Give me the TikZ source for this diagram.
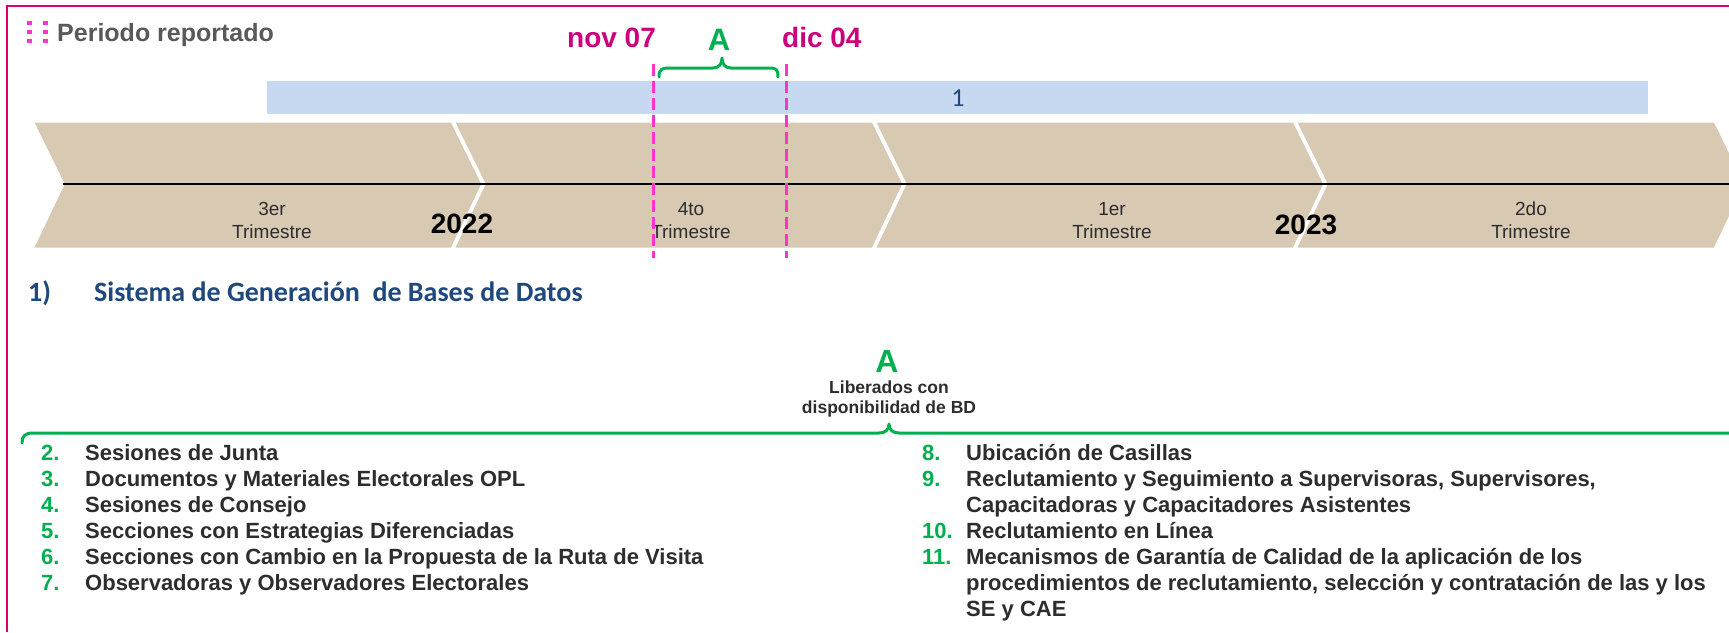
\documentclass[tikz,border=0pt]{standalone}
\usepackage{fontspec}
\setmainfont{Liberation Sans}
\newfontfamily\calfont{Carlito}
\definecolor{framepink}{RGB}{214,0,111}
\definecolor{dotpink}{RGB}{255,51,204}
\definecolor{datepink}{RGB}{204,0,122}
\definecolor{chevtan}{RGB}{216,201,179}
\definecolor{barblue}{RGB}{198,217,240}
\definecolor{navy}{RGB}{31,73,125}
\definecolor{grn}{RGB}{0,176,80}
\definecolor{txt}{RGB}{45,45,45}
\definecolor{graytxt}{RGB}{89,89,89}
\begin{document}
\begin{tikzpicture}[x=1pt,y=-1pt,
  lst/.style={anchor=base west, inner sep=0pt, font=\fontsize{22}{26}\selectfont\bfseries, text=txt},
  num/.style={lst, text=grn},
  chev/.style={fill=chevtan, draw=white, line width=3pt, line join=miter},
  qtr/.style={anchor=base, inner sep=0pt, font=\fontsize{19}{22}\selectfont, text=txt},
  yr/.style={anchor=base, inner sep=0pt, font=\fontsize{28}{30}\selectfont\bfseries, text=black},
  datelbl/.style={anchor=base west, inner sep=0pt, font=\fontsize{28}{30}\selectfont\bfseries, text=datepink},
  markline/.style={dotpink, line width=3pt, dash pattern=on 12pt off 5pt},
  bracel/.style={grn, line width=3pt, line cap=round, line join=round},
  dotsq/.style={fill=dotpink}
]
\useasboundingbox (0,0) rectangle (1729,632);
\clip (0,0) rectangle (1729,632);
\fill[white] (0,0) rectangle (1729,632);

% frame
\coordinate (fbl) at (7,632);
\coordinate (ftl) at (7,6);
\coordinate (ftr) at (1729,6);
\draw[framepink, line width=2pt] (fbl) -- (ftl) -- (ftr);

% header marker
\foreach \cx in {27,43}{
  \foreach \cy in {21,30,39}{
    \fill[dotsq] (\cx,\cy) rectangle ++(5,4);
  }
}
\node (hdr) [anchor=base west, inner sep=0pt, font=\fontsize{25}{28}\selectfont\bfseries, text=graytxt] at (57,41) {Periodo reportado};

% blue bar
\node (bar) [anchor=north west, fill=barblue, inner sep=0pt, minimum width=1381pt, minimum height=33pt] at (267,81) {};
\node (barlbl) [inner sep=0pt, font=\calfont\fontsize{26}{28}\selectfont, text=navy] at (958,98) {1};

% chevrons
\foreach \i in {0,1,2,3}{
  \path[chev] ({32+421*\i},121) -- ++(420,0) -- ++(31,63) -- ++(-31,65) -- ++(-420,0) -- ++(31,-65) -- cycle;
}
\coordinate (axl) at (63,184);
\coordinate (axr) at (1729,184);
\draw[black, line width=2pt] (axl) -- (axr);

\node (q3a) [qtr] at (272,215) {3er};
\node (q3b) [qtr] at (272,238) {Trimestre};
\node (q4a) [qtr] at (691,215) {4to};
\node (q4b) [qtr] at (691,238) {Trimestre};
\node (q1a) [qtr] at (1112,215) {1er};
\node (q1b) [qtr] at (1112,238) {Trimestre};
\node (q2a) [qtr] at (1531,215) {2do};
\node (q2b) [qtr] at (1531,238) {Trimestre};
\node (y22) [yr] at (462,233) {2022};
\node (y23) [yr] at (1306,234) {2023};

% period markers
\node (nov) [datelbl] at (567,47) {nov 07};
\node (dic) [datelbl] at (782,47) {dic 04};
\coordinate (m1t) at (653,64);
\coordinate (m1b) at (653,258);
\coordinate (m2t) at (786,64);
\coordinate (m2b) at (786,258);
\draw[markline] (m1t) -- (m1b);
\draw[markline] (m2t) -- (m2b);
\node (atop) [anchor=base, inner sep=0pt, font=\fontsize{31}{33}\selectfont\bfseries, text=grn] at (719,50) {A};
\coordinate (b1l) at (659,77);
\coordinate (b1r) at (778,77);
\coordinate (b1t) at (722,58);
\draw[bracel] (b1l) .. controls (659,69) and (662,68) .. (669,68) -- (713,68)
  .. controls (719,68) and (722,64) .. (b1t)
  .. controls (722,64) and (725,68) .. (731,68) -- (769,68)
  .. controls (776,68) and (778,69) .. (b1r);

% section title
\node (t1) [anchor=base west, inner sep=0pt, font=\calfont\fontsize{28}{30}\selectfont\bfseries, text=navy] at (28,301) {1)};
\node (t2) [anchor=base west, inner sep=0pt, font=\calfont\fontsize{28}{30}\selectfont\bfseries, text=navy] at (94,301) {Sistema de Generación\ \ de Bases de Datos};

% group A
\node (abot) [anchor=base, inner sep=0pt, font=\fontsize{32}{34}\selectfont\bfseries, text=grn] at (887,372) {A};
\node (lib1) [anchor=base, inner sep=0pt, font=\fontsize{17.5}{21}\selectfont\bfseries, text=txt] at (889,393) {Liberados con};
\node (lib2) [anchor=base, inner sep=0pt, font=\fontsize{17.5}{21}\selectfont\bfseries, text=txt] at (889,413) {disponibilidad de BD};
\coordinate (b2l) at (22,443);
\coordinate (b2t) at (889,424);
\coordinate (b2r) at (1740,433);
\draw[bracel] (b2l) .. controls (22,436) and (25,433) .. (33,433) -- (879,433)
  .. controls (885,433) and (889,430) .. (b2t)
  .. controls (889,430) and (893,433) .. (899,433) -- (b2r);

% left list
\node (n2) [num] at (41,460) {2.};  \node (i2) [lst] at (85,460) {Sesiones de Junta};
\node (n3) [num] at (41,486) {3.};  \node (i3) [lst] at (85,486) {Documentos y Materiales Electorales OPL};
\node (n4) [num] at (41,512) {4.};  \node (i4) [lst] at (85,512) {Sesiones de Consejo};
\node (n5) [num] at (41,538) {5.};  \node (i5) [lst] at (85,538) {Secciones con Estrategias Diferenciadas};
\node (n6) [num] at (41,564) {6.};  \node (i6) [lst] at (85,564) {Secciones con Cambio en la Propuesta de la Ruta de Visita};
\node (n7) [num] at (41,590) {7.};  \node (i7) [lst] at (85,590) {Observadoras y Observadores Electorales};

% right list
\node (n8) [num] at (922,460) {8.};  \node (i8) [lst] at (966,460) {Ubicación de Casillas};
\node (n9) [num] at (922,486) {9.};  \node (i9) [lst] at (966,486) {Reclutamiento y Seguimiento a Supervisoras, Supervisores,};
\node (i9b) [lst] at (966,512) {Capacitadoras y Capacitadores Asistentes};
\node (n10) [num] at (922,538) {10.}; \node (i10) [lst] at (966,538) {Reclutamiento en Línea};
\node (n11) [num] at (922,564) {11.}; \node (i11) [lst] at (966,564) {Mecanismos de Garantía de Calidad de la aplicación de los};
\node (i11b) [lst] at (966,590) {procedimientos de reclutamiento, selección y contratación de las y los};
\node (i11c) [lst] at (966,616) {SE y CAE};
\end{tikzpicture}
\end{document}
